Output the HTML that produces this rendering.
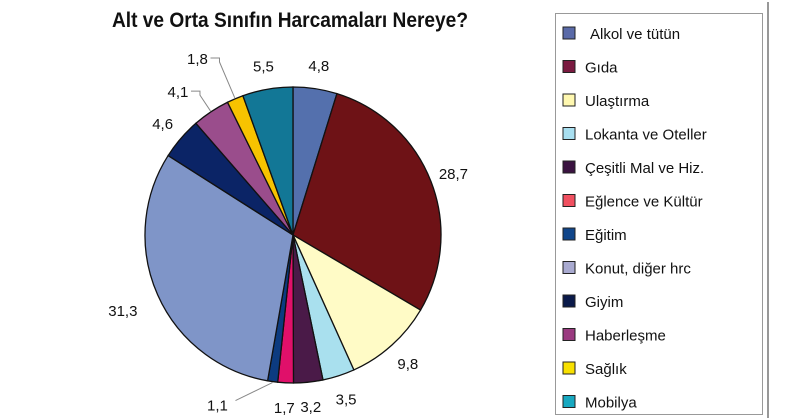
<!DOCTYPE html>
<html><head><meta charset="utf-8">
<style>
html,body{margin:0;padding:0;background:#fff;}
svg{display:block;font-family:"Liberation Sans",sans-serif;}
</style></head>
<body>
<svg id="chart" width="800" height="420" viewBox="0 0 800 420">
  <line x1="768" y1="2" x2="768" y2="418" stroke="#777" stroke-width="1.5"/>
  <text x="290" y="27" text-anchor="middle" font-size="21" font-weight="bold" textLength="356" lengthAdjust="spacingAndGlyphs" fill="#111">Alt ve Orta Sınıfın Harcamaları Nereye?</text>
  <g id="slices"></g>
  <g id="labels"></g>
  <rect x="555.5" y="13.5" width="207" height="401" fill="#fff" stroke="#999"/>
  <g id="legend"></g>
</svg>
<script>
const categories = ["Alkol ve tütün","Gıda","Ulaştırma","Lokanta ve Oteller","Çeşitli Mal ve Hiz.","Eğlence ve Kültür","Eğitim","Konut, diğer hrc","Giyim","Haberleşme","Sağlık","Mobilya"];
const values = [4.8,28.7,9.8,3.5,3.2,1.7,1.1,31.3,4.6,4.1,1.8,5.5];
const valueLabels = ["4,8","28,7","9,8","3,5","3,2","1,7","1,1","31,3","4,6","4,1","1,8","5,5"];
const colors = ["#5470ad","#6e1216","#fffbc6","#a9e0ee","#4a1a48","#e0106a","#0c3b80","#7f95c8","#0b2466","#9a4d8c","#f7c300","#127796"];
const legendColors = ["#5a6aa8","#7a1a40","#fff8b0","#a8dff0","#3a1240","#f05060","#10458a","#a9aad0","#0a1a4a","#9a3a80","#f8e000","#18a8c0"];

const NS = "http://www.w3.org/2000/svg";
const cx = 293, cy = 235, r = 148;
const total = values.reduce((a,b)=>a+b,0);
const sg = document.getElementById('slices');
const lg = document.getElementById('labels');
const leg = document.getElementById('legend');
function pt(a, rr){ return [cx + rr*Math.sin(a), cy - rr*Math.cos(a)]; }
let acc = 0;
values.forEach((v,i)=>{
  const a0 = acc/total*2*Math.PI; acc += v;
  const a1 = acc/total*2*Math.PI;
  const [x0,y0] = pt(a0,r), [x1,y1] = pt(a1,r);
  const large = (a1-a0) > Math.PI ? 1 : 0;
  const p = document.createElementNS(NS,'path');
  p.setAttribute('d',`M${cx},${cy} L${x0},${y0} A${r},${r} 0 ${large} 1 ${x1},${y1} Z`);
  p.setAttribute('fill',colors[i]);
  p.setAttribute('stroke','#111');
  p.setAttribute('stroke-width','1.3');
  
  
  sg.appendChild(p);
  const am = (a0+a1)/2;
  const isLeader = (i===6 || i===9 || i===10);
  let lx, ly;
  if (isLeader){
    const [ex,ey] = pt(am, r+1);
    let pts;
    if (i===6){
      lx = ex - 55; ly = ey + 22;
      pts = `${ex},${ey} ${lx+18},${ly-4}`;
    } else {
      const [mx,my] = pt(am, i===10 ? r+40 : r+20);
      lx = mx - 22; ly = my - 4;
      pts = `${ex},${ey} ${mx},${my} ${mx},${ly} ${lx+13},${ly}`;
    }
    const ln = document.createElementNS(NS,'polyline');
    ln.setAttribute('points',pts);
    ln.setAttribute('fill','none');
    ln.setAttribute('stroke','#888');
    ln.setAttribute('stroke-width','1');
    
    
    lg.appendChild(ln);
  } else {
    const far = i===7 ? r+38 : r+24;
    [lx,ly] = pt(am, far);
  }
  const t = document.createElementNS(NS,'text');
  t.setAttribute('x',lx);
  t.setAttribute('y',ly+6);
  t.setAttribute('text-anchor','middle');
  t.setAttribute('font-size','15');
  t.setAttribute('fill','#111');
  t.textContent = valueLabels[i];
  
  
  lg.appendChild(t);
});
categories.forEach((c,i)=>{
  const y = 33 + i*33.5;
  const rc = document.createElementNS(NS,'rect');
  rc.setAttribute('x',563); rc.setAttribute('y',y-6);
  rc.setAttribute('width',12); rc.setAttribute('height',12);
  rc.setAttribute('fill',legendColors[i]); rc.setAttribute('stroke','#222');
  
  
  leg.appendChild(rc);
  const t = document.createElementNS(NS,'text');
  t.setAttribute('x', i===0 ? 590 : 585);
  t.setAttribute('y', y+6);
  t.setAttribute('font-size','15');
  t.setAttribute('fill','#111');
  t.textContent = c;
  
  
  leg.appendChild(t);
});
</script>
</body></html>
